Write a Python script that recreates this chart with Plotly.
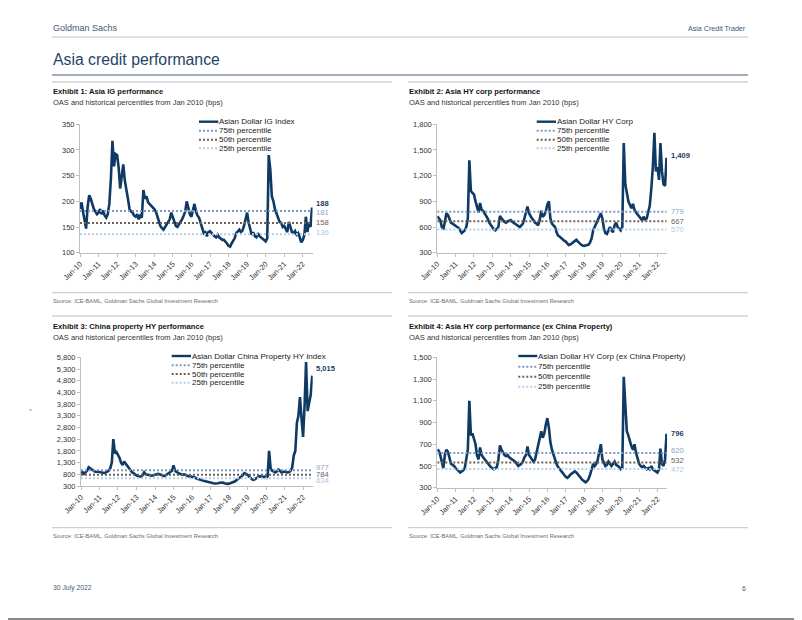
import plotly.graph_objects as go
import pandas as pd

# ---------------- data (monthly, Jan-2010 .. Jul-2022, bps) ----------------
ig = [185, 198, 180, 160, 147, 190, 212, 205, 195, 185, 180, 175,
      178, 185, 175, 182, 172, 168, 175, 195, 245, 318, 268, 292,
      290, 265, 225, 245, 272, 240, 225, 205, 185, 180, 178, 172,
      170, 175, 165, 172, 168, 222, 205, 210, 198, 195, 190, 188,
      185, 180, 170, 160, 152, 148, 145, 150, 155, 160, 165, 178,
      170, 160, 152, 150, 155, 158, 165, 172, 180, 200, 185, 175,
      170, 182, 195, 180, 172, 168, 160, 148, 138, 140, 132, 140,
      142, 138, 135, 132, 130, 135, 130, 128, 125, 125, 122, 118,
      113, 112, 118, 122, 128, 138, 142, 145, 140, 143, 152, 168,
      178, 158, 145, 135, 140, 132, 130, 138, 132, 130, 128, 125,
      122, 128, 290, 262, 210, 200, 185, 175, 168, 160, 158, 150,
      152, 145, 140, 160, 148, 140, 138, 142, 135, 138, 130, 120,
      125, 135, 170, 140, 158, 150, 188]

hy = [725, 700, 680, 600, 570, 660, 760, 740, 700, 650, 640, 630,
      610, 600, 590, 560, 530, 545, 560, 600, 700, 1380, 1020, 1000,
      980, 900, 820, 770, 880, 800, 790, 760, 720, 700, 650, 620,
      590, 570, 560, 575, 600, 730, 700, 680, 660, 650, 665, 670,
      680, 660, 650, 640, 630, 610, 600, 620, 640, 700, 760, 840,
      760, 720, 700, 680, 650, 640, 620, 680, 790, 720, 740, 780,
      860, 900, 700, 640, 620, 600, 540, 500, 490, 470, 460, 440,
      430, 410, 390, 395, 410, 420, 440, 450, 430, 410, 395, 385,
      380, 385, 390, 395, 420, 470, 560, 600, 640, 690, 720, 760,
      700, 580, 530, 520, 560, 600, 560, 540, 620, 650, 600, 580,
      560, 600, 1580, 1100, 980, 900, 860, 820, 870, 800, 770, 750,
      720, 700, 680, 720, 690, 700, 760, 850, 1050, 1300, 1700, 1250,
      1300, 1150, 1580, 1250, 1100, 1080, 1409]

cp = [850, 900, 820, 870, 950, 1100, 1050, 1000, 950, 920, 900, 920,
      900, 880, 870, 860, 880, 900, 950, 1050, 1300, 2300, 1700, 1750,
      1650, 1500, 1300, 1200, 1350, 1250, 1200, 1100, 1000, 900, 850, 780,
      750, 720, 720, 700, 760, 880, 800, 780, 750, 730, 740, 760,
      780, 800, 820, 800, 780, 740, 720, 760, 800, 850, 880, 950,
      1180, 950, 900, 850, 820, 800, 780, 800, 760, 730, 710, 700,
      690, 700, 660, 620, 590, 570, 550, 530, 510, 490, 480, 470,
      460, 440, 420, 410, 400, 420, 440, 460, 450, 420, 400, 390,
      400, 420, 430, 450, 500, 560, 620, 660, 700, 760, 850, 820,
      780, 700, 620, 580, 560, 600, 640, 680, 720, 700, 680, 700,
      650, 700, 1800, 1050, 950, 920, 880, 920, 1000, 950, 880, 900,
      920, 900, 880, 900, 950, 1100, 1600, 1800, 3000, 3300, 4100, 3200,
      2400, 3800, 5600, 3500, 3800, 4200, 5015]

xcp = [650, 640, 600, 540, 480, 600, 650, 630, 560, 520, 510, 500,
       480, 470, 455, 440, 450, 460, 480, 560, 650, 1100, 780, 800,
       760, 700, 600, 560, 670, 600, 580, 560, 540, 520, 500, 490,
       480, 470, 480, 490, 560, 690, 650, 620, 600, 590, 600, 580,
       570, 560, 550, 540, 520, 500, 510, 520, 540, 580, 600, 680,
       600, 580, 560, 540, 560, 620, 700, 760, 820, 760, 800, 880,
       940, 850, 720, 650, 600, 560, 520, 490, 470, 450, 430, 410,
       400, 390, 400, 420, 430, 440, 450, 440, 420, 400, 380, 370,
       360, 350, 360, 380, 420, 480, 520, 500, 520, 560, 620, 700,
       560, 520, 500, 510, 540, 520, 500, 520, 540, 510, 500, 490,
       470, 480, 1320, 1100, 820, 780, 720, 680, 650, 700, 620, 560,
       520, 500, 490, 500, 480, 470, 480, 470, 500, 470, 460, 450,
       440, 470, 660, 520, 500, 560, 796]

# percentiles: 75th, 50th, 25th
ig_pct = [181, 158, 136]
hy_pct = [779, 667, 570]
cp_pct = [977, 784, 634]
xcp_pct = [620, 532, 472]

series_names = ["Asian Dollar IG Index", "Asian Dollar HY Corp",
                "Asian Dollar China Property HY Index",
                "Asian Dollar HY Corp (ex China Property)"]
pct_names = ["75th percentile", "50th percentile", "25th percentile"]
last_labels = ["188", "1,409", "5,015", "796"]
pct_labels = [["181", "158", "136"], ["779", "667", "570"],
              ["977", "784", "634"], ["620", "532", "472"]]

titles = ["Exhibit 1: Asia IG performance", "Exhibit 2: Asia HY corp performance",
          "Exhibit 3: China property HY performance",
          "Exhibit 4: Asia HY corp performance (ex China Property)"]
subtitle = "OAS and historical percentiles from Jan 2010 (bps)"
source = "Source: ICE-BAML, Goldman Sachs Global Investment Research"

dates = pd.date_range("2010-01-01", periods=len(ig), freq="MS")

# ---------------- styling ----------------
W, H = 802, 620
OFF = 8  # page body margin compensation
NAVY = "#0f3a64"
PCT_COLORS = ["#7b98c8", "#6a6058", "#b2cfee"]
PCT_LABEL_COLORS = ["#87a2cc", "#6a6058", "#a9c8ea"]
ARIAL = "Liberation Sans, Arial, sans-serif"
HEAD = "#3f587a"


def px(x):
    return (x - OFF) / W


def py(y):
    return 1 - (y - OFF) / H


fig = go.Figure()

panels = [
    dict(data=ig, pct=ig_pct, xd=(80, 312.5), yd=(124.3, 252.7), yr=[100, 350], dt=50,
         fmt="d", leg=(199, 218.3, [121.7, 130.7, 139.7, 148.3]),
         ysh=[3.5, -1.5, 0, 2]),
    dict(data=hy, pct=hy_pct, xd=(437.3, 667), yd=(124.3, 252.7), yr=[300, 1800], dt=300,
         fmt=",d", leg=(536.7, 556, [121.7, 130.7, 139.7, 148.3]),
         ysh=[2, 0, 0, 0]),
    dict(data=cp, pct=cp_pct, xd=(81, 312.7), yd=(357.3, 486), yr=[300, 5800], dt=500,
         fmt=",d", leg=(171.7, 191, [356, 365.3, 374, 382.7]),
         ysh=[7.4, 3, 0, -2]),
    dict(data=xcp, pct=xcp_pct, xd=(437.3, 667), yd=(357.3, 487.7), yr=[300, 1500], dt=200,
         fmt=",d", leg=(518.3, 537.3, [356, 366.7, 376.7, 386.7]),
         ysh=[0, 2, 2, 0]),
]

annotations = []
shapes = []

for i, p in enumerate(panels):
    k = "" if i == 0 else str(i + 1)
    xa, ya = "x" + k, "y" + k
    # main series
    fig.add_trace(go.Scatter(x=dates, y=p["data"], mode="lines", name=series_names[i],
                             line=dict(color=NAVY, width=2.6), xaxis=xa, yaxis=ya,
                             showlegend=False, hoverinfo="skip"))
    # percentile lines
    for j, v in enumerate(p["pct"]):
        fig.add_trace(go.Scatter(x=[dates[0], dates[-1]], y=[v, v], mode="lines",
                                 name=pct_names[j],
                                 line=dict(color=PCT_COLORS[j], width=2, dash="2px,2px"),
                                 xaxis=xa, yaxis=ya, showlegend=False, hoverinfo="skip"))
    # axes
    fig.update_layout({
        "xaxis" + k: dict(domain=[px(p["xd"][0]), px(p["xd"][1])], anchor=ya,
                          type="date", range=["2010-01-01", "2022-07-10"],
                          tick0="2010-01-01", dtick="M12", tickformat="%b-%y",
                          tickangle=-45, showline=True, linecolor="#bfbfbf", linewidth=1,
                          ticks="outside", ticklen=3, tickcolor="#bfbfbf",
                          showgrid=False, zeroline=False, automargin=False,
                          tickfont=dict(family=ARIAL, size=7.5, color="#333333")),
        "yaxis" + k: dict(domain=[py(p["yd"][1]), py(p["yd"][0])], anchor=xa,
                          range=p["yr"], dtick=p["dt"], tick0=p["yr"][0],
                          tickformat=p["fmt"], showline=True, linecolor="#bfbfbf",
                          linewidth=1, ticks="outside", ticklen=3, tickcolor="#bfbfbf",
                          showgrid=False, zeroline=False, automargin=False,
                          tickfont=dict(family=ARIAL, size=7.5, color="#333333")),
    })
    # end-value labels
    annotations.append(dict(x=dates[-1], y=p["data"][-1], xref=xa, yref=ya,
                            text="<b>" + last_labels[i] + "</b>", showarrow=False,
                            xanchor="left", yanchor="middle", xshift=2, yshift=p["ysh"][0],
                            font=dict(family=ARIAL, size=7.6, color="#1d3d63")))
    for j, v in enumerate(p["pct"]):
        annotations.append(dict(x=dates[-1], y=v, xref=xa, yref=ya,
                                text=pct_labels[i][j], showarrow=False,
                                xanchor="left", yanchor="middle", xshift=2,
                                yshift=p["ysh"][j + 1],
                                font=dict(family=ARIAL, size=7.6, color=PCT_LABEL_COLORS[j])))
    # manual legend
    lx0, lx1, rows = p["leg"]
    names = [series_names[i]] + pct_names
    for r, yy in enumerate(rows):
        if r == 0:
            ln = dict(color=NAVY, width=2.4)
        else:
            ln = dict(color=PCT_COLORS[r - 1], width=2, dash="2px,2px")
        shapes.append(dict(type="line", xref="paper", yref="paper",
                           x0=px(lx0), x1=px(lx1), y0=py(yy), y1=py(yy), line=ln))
        annotations.append(dict(x=px(lx1), y=py(yy), xref="paper", yref="paper",
                                text=names[r], showarrow=False, xanchor="left",
                                yanchor="middle", xshift=-1,
                                font=dict(family=ARIAL, size=8, color="#1a1a1a")))


def text(x, y, s, size, color, anchor="left"):
    annotations.append(dict(x=px(x), y=py(y), xref="paper", yref="paper", text=s,
                            showarrow=False, xanchor=anchor, yanchor="middle",
                            font=dict(family=ARIAL, size=size, color=color)))


def hline(x0, x1, y, color, width):
    shapes.append(dict(type="line", xref="paper", yref="paper", x0=px(x0), x1=px(x1),
                       y0=py(y), y1=py(y), line=dict(color=color, width=width)))


# page header
text(51, 28, "Goldman Sachs", 9, HEAD)
text(748, 29, "Asia Credit Trader", 7.1, HEAD, anchor="right")
hline(52, 748, 37, "#b9c3cd", 1)
text(50.5, 59.5, "Asia credit performance", 15.8, "#234468")
hline(52, 748, 75, "#a3aebb", 2)

# exhibit titles / frames
for col, x0 in enumerate([52, 408]):
    for row, (ytop, ytitle, ysrc_line) in enumerate([(82, 91.5, 292.7), (316, 326, 527.7)]):
        idx = row * 2 + col
        hline(x0, x0 + 340, ytop, "#b4bcc6", 1)
        text(x0 - 1, ytitle, "<b>" + titles[idx] + "</b>", 7.6, "#141414")
        text(x0 - 1, ytitle + 11.5, subtitle, 7.5, "#333333")
        hline(x0, x0 + 340, ysrc_line, "#c4c4c4", 1)
        text(x0 - 1, ysrc_line + 8.5, source, 5.7, "#6b6b6b")

# footer
text(51, 588, "30 July 2022", 6.8, HEAD)
text(748, 588, "6", 6.8, HEAD, anchor="right")

# small margin mark
hline(29, 32, 410, "#a0a0a0", 1)

# page frame (right / bottom edges visible)
shapes.append(dict(type="rect", xref="paper", yref="paper", x0=px(0.5), x1=px(801),
                   y0=py(619), y1=py(0.5), line=dict(color="#8a8a8a", width=2)))

fig.update_layout(template="none", width=W, height=H, autosize=False,
                  margin=dict(l=0, r=0, t=0, b=0, pad=0, autoexpand=False),
                  paper_bgcolor="white", plot_bgcolor="white",
                  showlegend=False, annotations=annotations, shapes=shapes)

fig.write_html("out.html")
